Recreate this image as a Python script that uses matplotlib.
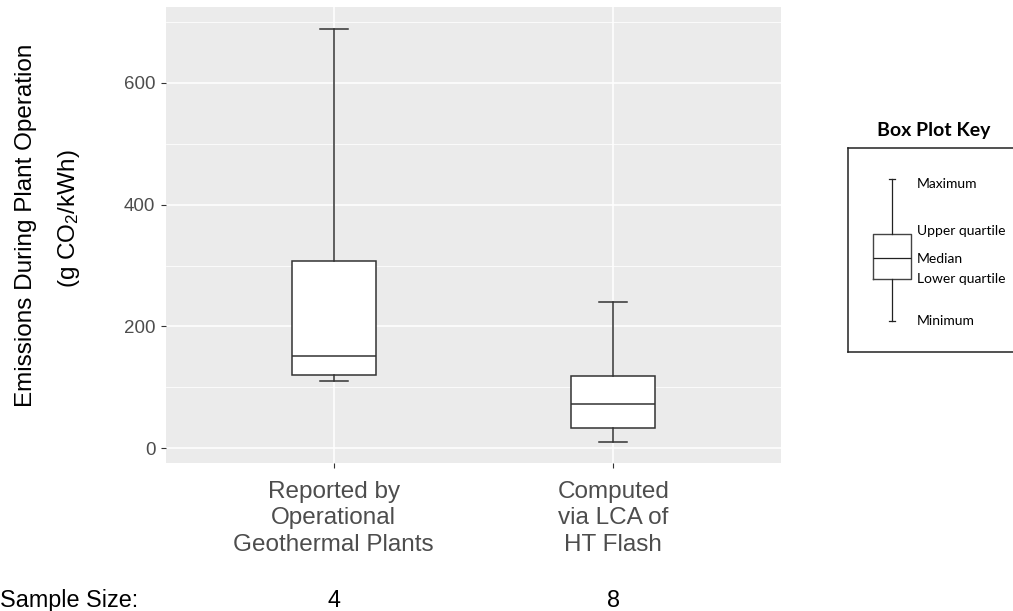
import matplotlib
matplotlib.use("Agg")
import matplotlib.pyplot as plt
from matplotlib.transforms import blended_transform_factory

plt.rcParams['font.family'] = ['Liberation Sans', 'DejaVu Sans']
plt.rcParams['mathtext.default'] = 'regular'

# categories and box statistics (g CO2/kWh)
categories = ["Reported by\nOperational\nGeothermal Plants",
              "Computed\nvia LCA of\nHT Flash"]
whis_lo = [110, 11]
q1 = [120, 34]
medians = [152, 73]
q3 = [308, 118]
whis_hi = [688, 240]
sample_sizes = [4, 8]

# key (illustrative) statistics, arbitrary units 0..100
key_stats = [dict(whislo=15, q1=36, med=46, q3=58, whishi=85)]
key_labels = ["Minimum", "Lower quartile", "Median", "Upper quartile", "Maximum"]
key_label_y = [13.2, 34.0, 43.8, 57.4, 80.2]

W, H = 1013, 611
fig = plt.figure(figsize=(W / 100, H / 100), dpi=100)
ax = fig.add_axes([166 / W, 1 - 462.7 / H, (781 - 166) / W, (462.7 - 7) / H])
ax.set_facecolor('#EBEBEB')
for s in ax.spines.values():
    s.set_visible(False)

stats = []
for i in range(len(categories)):
    stats.append(dict(whislo=whis_lo[i], q1=q1[i], med=medians[i],
                      q3=q3[i], whishi=whis_hi[i]))

line_kw = dict(color='#333333', linewidth=1.1)
ax.bxp(stats, positions=[1, 2], widths=0.3, showfliers=False, patch_artist=True,
       boxprops=dict(facecolor='white', edgecolor='#333333', linewidth=1.1),
       whiskerprops=line_kw, capprops=line_kw, medianprops=line_kw,
       capwidths=0.1, zorder=3)

ax.set_xlim(0.4, 2.6)
ax.set_ylim(-23.6, 724.3)
ax.set_yticks([0, 200, 400, 600])
ax.set_yticks([100, 300, 500, 700], minor=True)
ax.set_xticks([1, 2])
ax.set_xticklabels(categories, linespacing=1.25)
ax.grid(True, which='major', color='white', linewidth=1.1, zorder=0)
ax.grid(True, which='minor', axis='y', color='white', linewidth=0.55, zorder=0)
ax.set_axisbelow(True)
ax.tick_params(axis='both', which='major', length=3.3, width=0.8, color='#333333',
               labelcolor='#4D4D4D')
ax.tick_params(axis='y', labelsize=13.5, pad=4.3)
ax.tick_params(axis='x', labelsize=17.5, pad=10)
ax.tick_params(which='minor', length=0)

# y label (two lines)
fig.text(32.3 / W, 1 - 225 / H, "Emissions During Plant Operation",
         rotation=90, rotation_mode='anchor', ha='center', va='baseline',
         fontsize=17.5, color='black')
fig.text(75 / W, 1 - 219 / H, "(g CO$_2$/kWh)",
         rotation=90, rotation_mode='anchor', ha='center', va='baseline',
         fontsize=17.5, color='black')

# sample size row
trans = blended_transform_factory(ax.transData, fig.transFigure)
fig.text(0.0, 1 - 606.7 / H, "Sample Size:", ha='left', va='baseline', fontsize=16.8)
for pos, n in zip([1, 2], sample_sizes):
    ax.text(pos, 1 - 606.7 / H, str(n), transform=trans, ha='center', va='baseline',
            fontsize=16.8, clip_on=False)

# box plot key
kax = fig.add_axes([848 / W, 1 - 352 / H, (1025 - 848) / W, (352 - 148) / H])
kline = dict(color='#222222', linewidth=0.9)
kax.bxp(key_stats, positions=[0.249], widths=0.215, showfliers=False,
        boxprops=dict(color='#444444', linewidth=1.0), manage_ticks=False,
        whiskerprops=kline, capprops=kline, medianprops=kline, capwidths=0.034)
kax.set_xlim(0, 1)
kax.set_ylim(0, 100)
kax.set_xticks([])
kax.set_yticks([])
for s in kax.spines.values():
    s.set_color('#222222')
    s.set_linewidth(1.1)
for lab, yv in zip(key_labels, key_label_y):
    kax.text(0.388, yv, lab, ha='left', va='baseline', fontsize=10,
             family=['Lato', 'DejaVu Sans'])
fig.text(933.5 / W, 1 - 136 / H, "Box Plot Key", ha='center', va='baseline',
         fontsize=14, fontweight='bold', family=['Lato', 'DejaVu Sans'])

fig.savefig("out.png", dpi=100)
